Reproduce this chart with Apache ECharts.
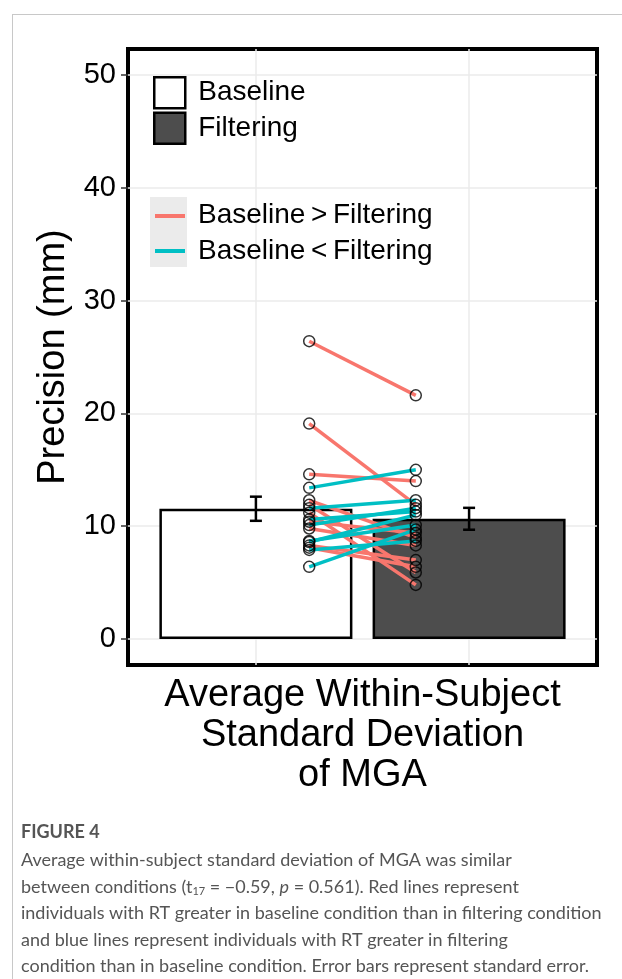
<!DOCTYPE html>
<html>
<head>
<meta charset="utf-8">
<script src="https://cdn.jsdelivr.net/npm/echarts@6/dist/echarts.min.js"></script>
<style>
  html, body { margin: 0; padding: 0; background: #fff; }
  #frame { position: absolute; left: 12px; top: 14px; right: 0; bottom: 0;
           border-left: 1px solid #c8c8c8; border-top: 1px solid #c8c8c8; }
  #chart { position: absolute; left: 0; top: 0; width: 622px; height: 979px; }
</style>
</head>
<body>
<div id="frame"></div>
<div id="chart"></div>
<script>
const conditions = ['Baseline', 'Filtering'];
const conditionX = [1, 2];
const meanPrecision = [11.55, 10.66];
const stdError = [1.07, 0.97];
const subjectX = [1.25, 1.75];
const baselineSubject = [26.4, 19.1, 14.6, 13.4, 12.3, 11.9, 11.6, 11.2, 10.6, 10.4, 10.1, 9.8, 8.7, 8.6, 8.3, 8.1, 7.9, 6.4];
const filteringSubject = [21.6, 11.9, 14.0, 15.0, 9.0, 5.9, 12.3, 4.8, 11.3, 9.4, 11.6, 8.3, 10.1, 11.0, 7.0, 6.4, 8.7, 9.7];
const yTicks = [0, 10, 20, 30, 40, 50];
const lineGroups = ['Baseline\u2009>\u2009Filtering', 'Baseline\u2009<\u2009Filtering'];
const lineColors = ['#f8766d', '#00bfc4'];
const barColors = ['#ffffff', '#4d4d4d'];

const plotFont = '"Liberation Sans", Arial, sans-serif';
const captionFont = 'Lato, "Open Sans", sans-serif';

const chart = echarts.init(document.getElementById('chart'));

const barSeries = conditions.map((name, i) => ({
  name,
  type: 'bar',
  z: 2,
  barWidth: 193,
  barGap: '-100%',
  silent: true,
  data: [[conditionX[i], meanPrecision[i]]],
  itemStyle: { color: barColors[i], borderColor: '#000', borderWidth: 2.5 },
}));

const errorSeries = {
  type: 'custom',
  z: 3,
  silent: true,
  data: conditionX.map((x, i) => [x, meanPrecision[i] - stdError[i], meanPrecision[i] + stdError[i]]),
  renderItem(params, api) {
    const lo = api.coord([api.value(0), api.value(1)]);
    const hi = api.coord([api.value(0), api.value(2)]);
    const half = 6;
    const style = { stroke: '#000', lineWidth: 2.5, fill: null };
    return {
      type: 'group',
      children: [
        { type: 'line', shape: { x1: lo[0], y1: lo[1], x2: hi[0], y2: hi[1] }, style },
        { type: 'line', shape: { x1: lo[0] - half, y1: lo[1], x2: lo[0] + half, y2: lo[1] }, style },
        { type: 'line', shape: { x1: hi[0] - half, y1: hi[1], x2: hi[0] + half, y2: hi[1] }, style },
      ],
    };
  },
};

const subjectLines = baselineSubject.map((b, i) => {
  const group = b > filteringSubject[i] ? 0 : 1;
  return {
    name: lineGroups[group],
    type: 'line',
    z: 4,
    symbol: 'none',
    silent: true,
    data: [[subjectX[0], b], [subjectX[1], filteringSubject[i]]],
    lineStyle: { color: lineColors[group], width: 3.5 },
    itemStyle: { color: lineColors[group] },
  };
});

const subjectPoints = {
  type: 'scatter',
  z: 5,
  silent: true,
  symbol: 'circle',
  symbolSize: 11,
  data: baselineSubject.map((v) => [subjectX[0], v])
    .concat(filteringSubject.map((v) => [subjectX[1], v])),
  itemStyle: { color: 'rgba(0,0,0,0)', borderColor: '#000', borderWidth: 1.5 },
};

chart.setOption({
  animation: false,
  backgroundColor: 'transparent',
  grid: {
    left: 128, right: 25, top: 49, bottom: 314,
    show: true, borderColor: '#000', borderWidth: 4,
  },
  title: [
    {
      text: 'FIGURE 4',
      left: 16, top: 818,
      textStyle: { fontFamily: captionFont, fontSize: 18, fontWeight: 'bold', color: '#555' },
    },
    {
      text: 'Average within-subject standard deviation of MGA was similar\n'
        + 'between conditions (t{sub|17} = \u22120.59, {i|p} = 0.561). Red lines represent\n'
        + 'individuals with RT greater in baseline condition than in filtering condition\n'
        + 'and blue lines represent individuals with RT greater in filtering\n'
        + 'condition than in baseline condition. Error bars represent standard error.',
      left: 16, top: 842,
      textStyle: {
        fontFamily: captionFont, fontSize: 18, fontWeight: 'normal', color: '#555', lineHeight: 26.5,
        rich: {
          sub: { fontFamily: captionFont, fontSize: 11, color: '#555', lineHeight: 26.5, padding: [9, 0, 0, 0] },
          i: { fontFamily: captionFont, fontSize: 18, fontStyle: 'italic', color: '#555', lineHeight: 26.5 },
        },
      },
    },
  ],
  legend: [
    {
      left: 153, top: 76, orient: 'vertical', icon: 'rect', selectedMode: false,
      itemWidth: 31, itemHeight: 31, itemGap: 2, padding: 0,
      textStyle: { fontFamily: plotFont, fontSize: 28, color: '#000', padding: [0, 0, 0, 8] },
      data: conditions.map((name, i) => ({
        name,
        itemStyle: { color: barColors[i], borderColor: '#000', borderWidth: 2.5 },
      })),
    },
    {
      left: 150, top: 197, orient: 'vertical', selectedMode: false,
      itemWidth: 30, itemHeight: 30, itemGap: 8, padding: [4, 0, 4, 3],
      backgroundColor: '#ebebeb',
      itemStyle: { opacity: 0 },
      lineStyle: { width: 4 },
      formatter: () => '',
      data: lineGroups,
    },
    {
      left: 181, top: 197, orient: 'vertical', selectedMode: false,
      itemWidth: 0, itemHeight: 30, itemGap: 8, padding: [4, 0],
      itemStyle: { opacity: 0 }, lineStyle: { opacity: 0 },
      textStyle: { fontFamily: plotFont, fontSize: 28, color: '#000' },
      data: lineGroups,
    },
  ],
  xAxis: {
    type: 'value',
    min: 0.4, max: 2.6,
    name: 'Average Within-Subject\nStandard Deviation\nof MGA',
    nameLocation: 'middle',
    nameGap: 11,
    nameTextStyle: { fontFamily: plotFont, fontSize: 38, lineHeight: 40, color: '#000' },
    axisLine: { show: false },
    axisTick: { show: false, customValues: conditionX },
    axisLabel: { show: false },
    splitLine: { show: true, lineStyle: { color: '#ebebeb', width: 1.5 } },
  },
  yAxis: {
    type: 'value',
    min: -2.3, max: 52.3,
    name: 'Precision (mm)',
    nameLocation: 'middle',
    nameRotate: 90,
    nameGap: 46,
    nameTextStyle: { fontFamily: plotFont, fontSize: 38, color: '#000' },
    axisLine: { show: false },
    axisTick: { show: true, length: 7, customValues: yTicks, lineStyle: { color: '#333', width: 1.5 } },
    axisLabel: { customValues: yTicks, margin: 12, fontFamily: plotFont, fontSize: 29, color: '#000' },
    splitLine: { show: true, lineStyle: { color: '#ebebeb', width: 1.5 } },
  },
  series: [...barSeries, errorSeries, ...subjectLines, subjectPoints],
});

window.addEventListener('resize', () => chart.resize());
</script>
</body>
</html>
